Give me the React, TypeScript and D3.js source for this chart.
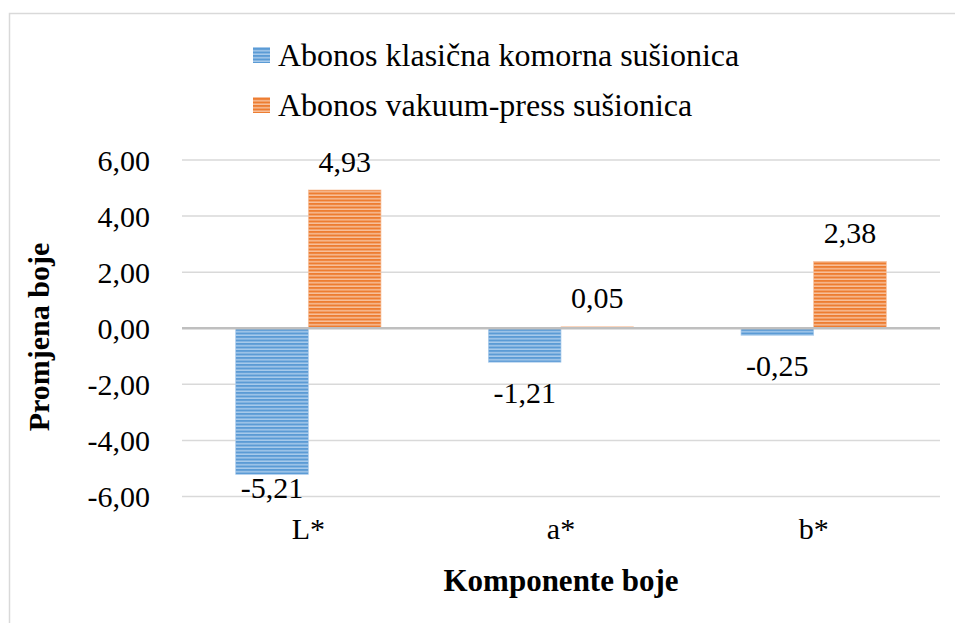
import React from "react";
import * as d3 from "d3";

const categories = ["L*", "a*", "b*"];
const seriesNames = ["Abonos klasična komorna sušionica", "Abonos vakuum-press sušionica"];
const klasicna = [-5.21, -1.21, -0.25];
const vakuum = [4.93, 0.05, 2.38];
const yTicks = [-6, -4, -2, 0, 2, 4, 6];

const W = 955, H = 623;
const plot = { left: 182, right: 940, top: 160, bottom: 496.5 };

const fmt = (v: number) => v.toFixed(2).replace(".", ",");

export default function App() {
  const x = d3.scaleBand<string>().domain(categories).range([plot.left, plot.right]).paddingInner(0.425).paddingOuter(0.2125);
  const y = d3.scaleLinear().domain([-6, 6]).range([plot.bottom, plot.top]);
  const bw = x.bandwidth() / 2;
  const font = "Liberation Serif";
  const colors = ["#5b9bd5", "#ed7d31"];
  const lights = ["#a9cbeb", "#f7c09c"];
  const series = [klasicna, vakuum];
  const fs = 30;
  return (
    <svg width={W} height={H} style={{ position: "absolute", left: 0, top: 0 }} fontFamily={font}>
      <defs>
        {colors.map((c, i) => (
          <pattern key={i} id={`pat${i}`} width={6} height={3.5} patternUnits="userSpaceOnUse">
            <rect width={6} height={3.5} fill={lights[i]} />
            <rect width={6} height={2} fill={c} />
          </pattern>
        ))}
      </defs>
      <rect x={0} y={0} width={W} height={H} fill="#fff" />
      <rect x={9.5} y={13.5} width={W + 10} height={H + 10} fill="none" stroke="#d9d9d9" strokeWidth={1.5} />
      {yTicks.filter(t => t !== 0).map(t => (
        <line key={t} x1={plot.left} x2={plot.right} y1={y(t)} y2={y(t)} stroke="#d9d9d9" strokeWidth={1.5} />
      ))}
      {yTicks.map(t => (
        <text key={t} x={150} y={y(t)} dy="0.35em" textAnchor="end" fontSize={fs} fontFamily={font}>{fmt(t)}</text>
      ))}
      {series.map((s, si) =>
        s.map((v, ci) => {
          const bx = (x(categories[ci]) as number) + si * bw;
          const y0 = y(0), y1 = y(v);
          const ly = v >= 0 ? Math.max(y1 - 29, plot.top - 2) : Math.min(y1 + 30, plot.bottom - 9);
          return (
            <g key={`${si}-${ci}`}>
              <rect x={bx} y={Math.min(y0, y1)} width={bw} height={Math.abs(y1 - y0)} fill={`url(#pat${si})`} stroke={lights[si]} strokeWidth={0.7} />
              <text x={bx + bw / 2} y={ly} dy="0.35em" textAnchor="middle" fontSize={fs} fontFamily={font}>{fmt(v)}</text>
            </g>
          );
        })
      )}
      <line x1={plot.left} x2={plot.right} y1={y(0)} y2={y(0)} stroke="#bfbfbf" strokeWidth={2.5} />
      {categories.map(c => (
        <text key={c} x={(x(c) as number) + x.bandwidth() / 2} y={528} dy="0.35em" textAnchor="middle" fontSize={fs} fontFamily={font}>{c}</text>
      ))}
      <text x={561} y={580} dy="0.35em" textAnchor="middle" fontSize={31} fontWeight="bold" fontFamily={font}>Komponente boje</text>
      <text transform={`translate(38,337) rotate(-90)`} dy="0.35em" textAnchor="middle" fontSize={fs} fontWeight="bold" fontFamily={font}>Promjena boje</text>
      {seriesNames.map((n, i) => (
        <g key={n} transform={`translate(253,${55 + i * 50})`}>
          <rect x={0} y={-8} width={17} height={16} fill={`url(#pat${i})`} />
          <text x={25} y={0} dy="0.35em" fontSize={32} fontFamily={font}>{n}</text>
        </g>
      ))}
    </svg>
  );
}
